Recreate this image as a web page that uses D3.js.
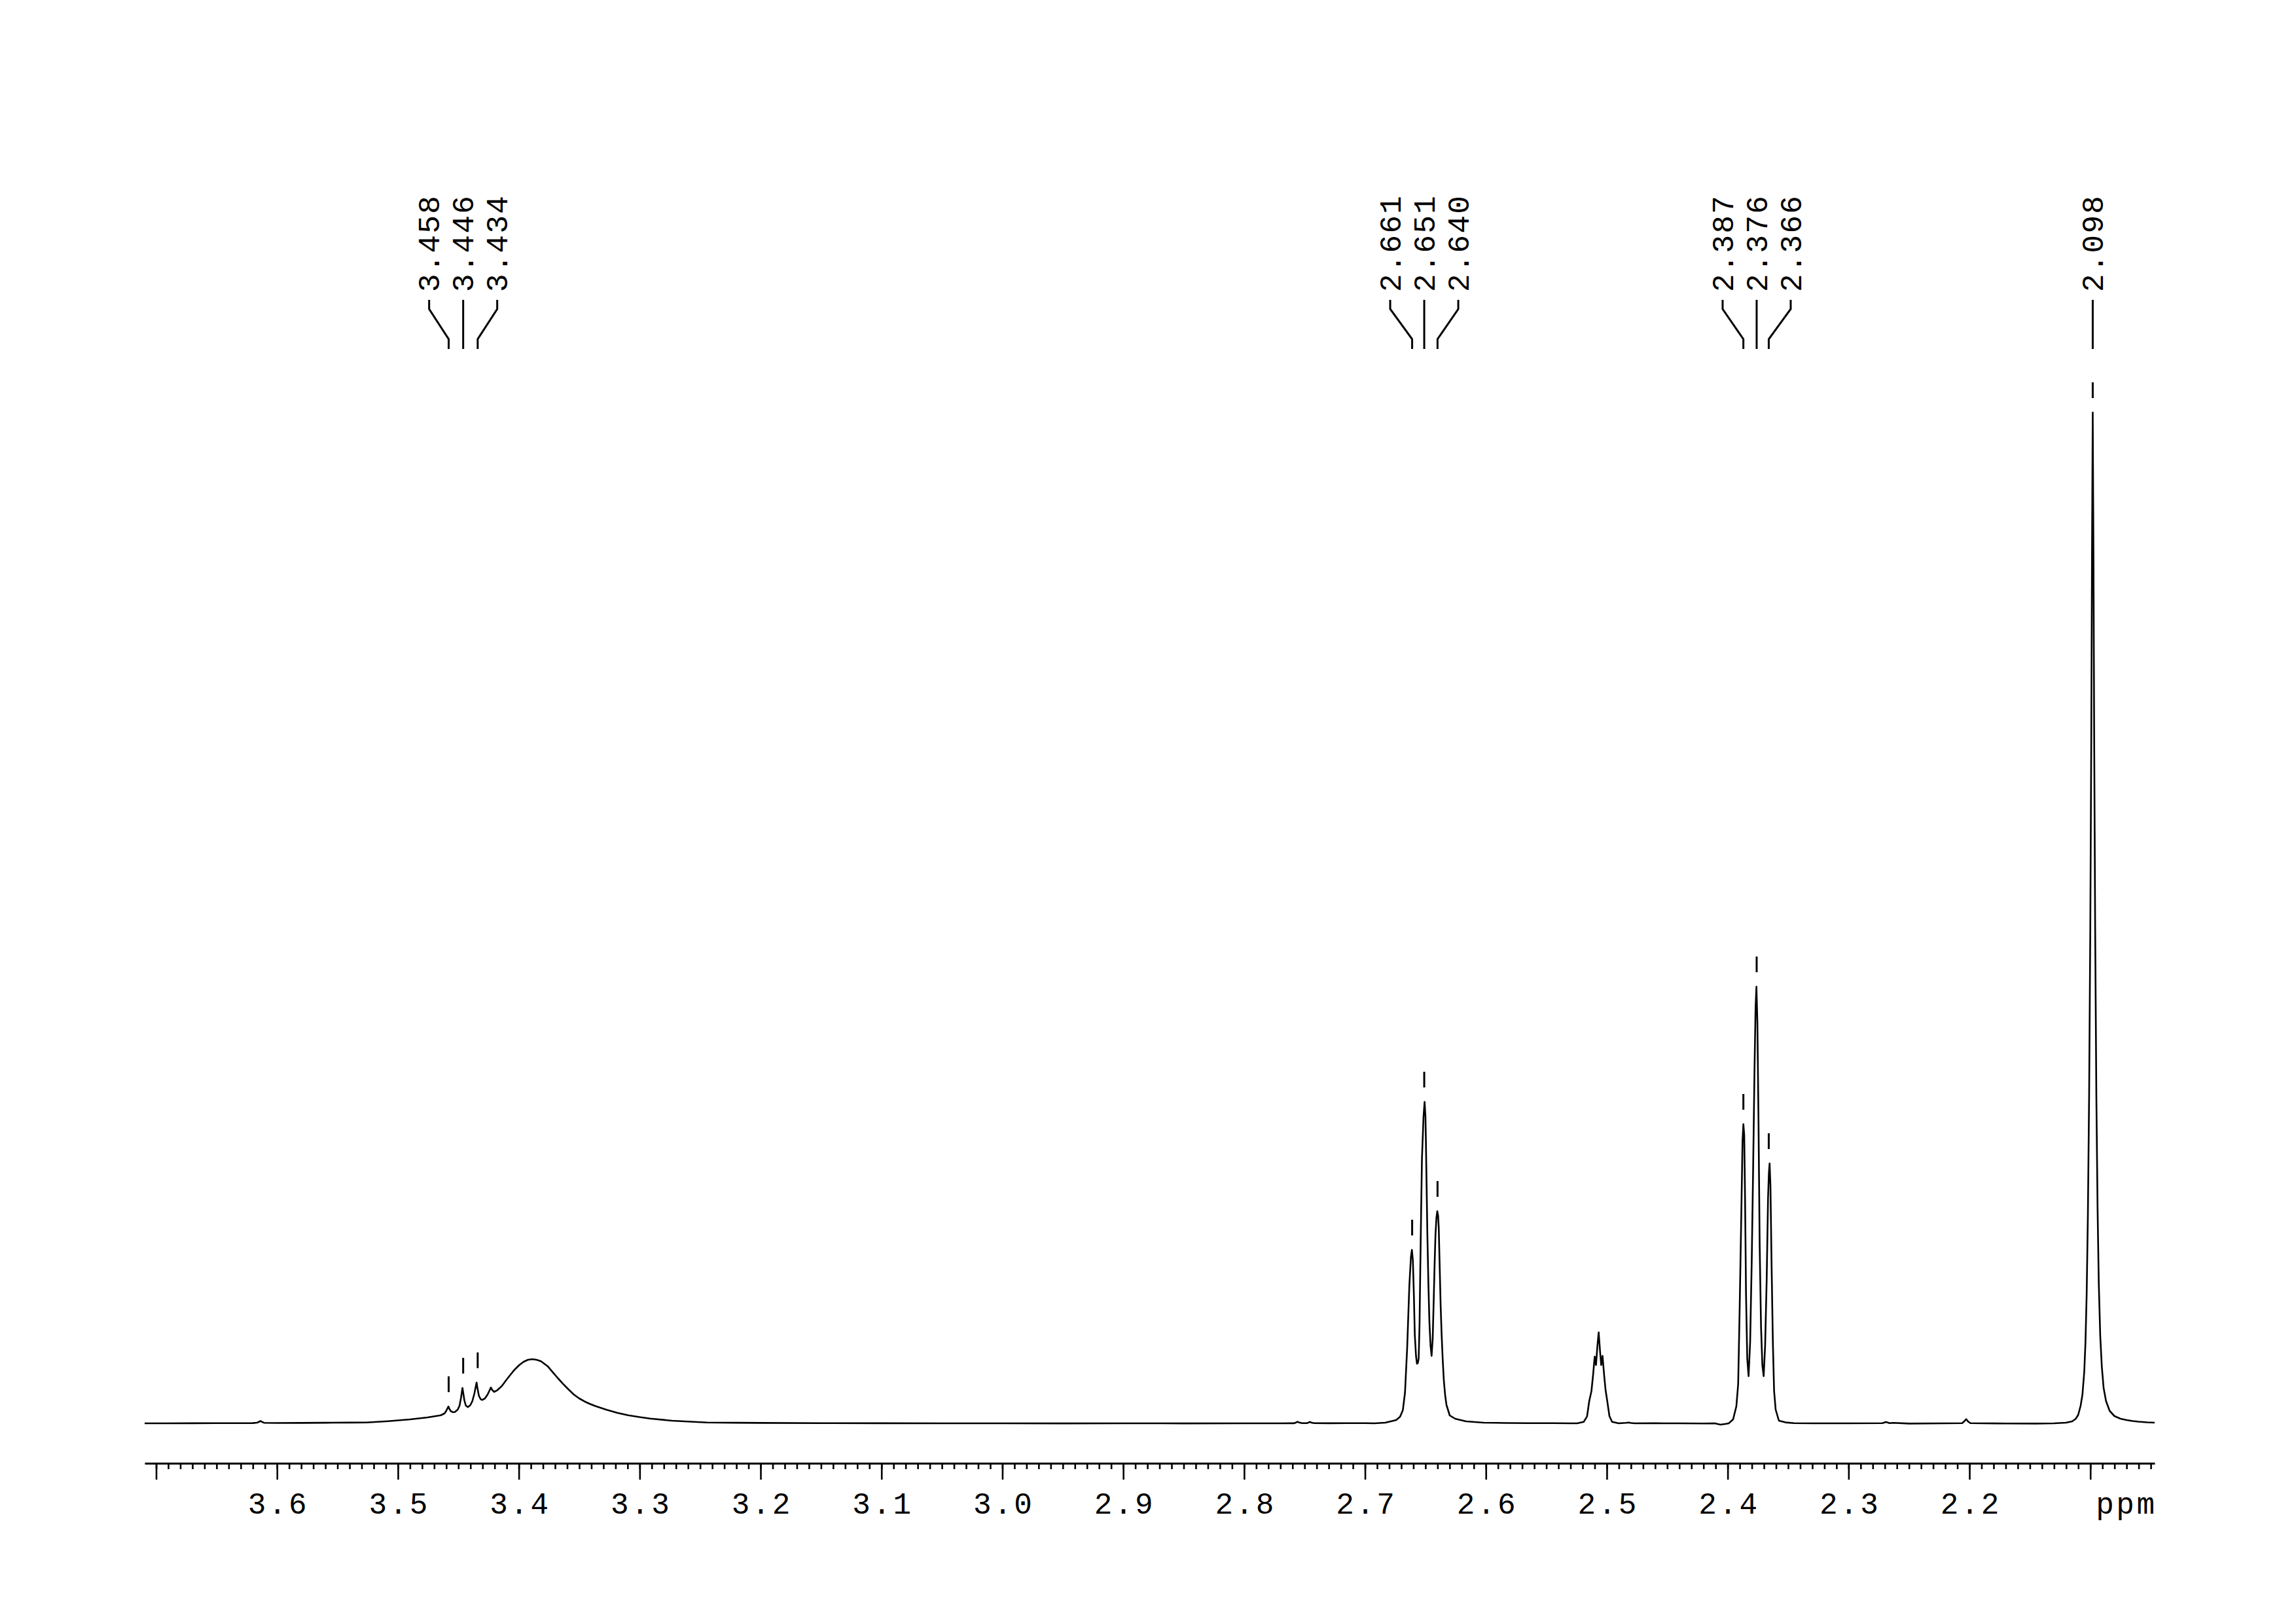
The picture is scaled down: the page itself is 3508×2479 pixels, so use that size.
<!DOCTYPE html>
<html><head><meta charset="utf-8">
<script src="https://cdn.jsdelivr.net/npm/d3@7"></script>
<style>html,body{margin:0;padding:0;background:#fff;} svg{display:block;}</style>
</head><body>
<svg id="chart" width="3508" height="2479"></svg>
<script>
// ---- DATA: [ppm, intensity (a.u.)] ----
const leftBaseline = [[3.7095,1.0],[3.690,1.0],[3.670,1.1],[3.650,1.2],[3.630,1.3],[3.620,1.4],[3.6165,2.0],[3.6150,3.2],[3.6137,4.5],[3.6123,3.2],[3.6108,1.8],[3.600,1.5],[3.580,1.6],[3.560,1.9],[3.540,2.1]];
const humpRegion = [[3.526,2.3],[3.508,4.3],[3.490,7.0],[3.4755,10.0],[3.4646,13.3],[3.4615,16.0],[3.4600,20.0],[3.4590,24.0],[3.4582,26.7],[3.4574,23.0],[3.4562,19.5],[3.4545,18.0],[3.4529,18.3],[3.4505,22.0],[3.4490,28.0],[3.4478,40.0],[3.4470,50.0],[3.4466,55.0],[3.4460,48.0],[3.4450,36.0],[3.4438,28.0],[3.4421,25.7],[3.4400,29.0],[3.4384,35.0],[3.4368,46.0],[3.4355,58.0],[3.4349,63.3],[3.4342,55.0],[3.4330,43.0],[3.4316,38.0],[3.4303,36.7],[3.4280,39.0],[3.4258,45.0],[3.4240,52.0],[3.4231,55.7],[3.4220,52.0],[3.4204,49.0],[3.4177,51.7],[3.4140,58.0],[3.4105,66.7],[3.4070,75.0],[3.4033,83.3],[3.3996,90.0],[3.3960,95.0],[3.3925,98.0],[3.3888,99.0],[3.3852,98.0],[3.3816,95.7],[3.3762,88.3],[3.3708,76.7],[3.3672,69.0],[3.3636,61.7],[3.3590,53.0],[3.3545,45.0],[3.3500,39.0],[3.3455,34.3],[3.3410,30.5],[3.3365,27.3],[3.3275,21.7],[3.3185,17.0],[3.3094,13.3],[3.3000,10.5],[3.2914,8.3],[3.2733,5.0],[3.2553,3.3],[3.2445,2.3]];
const middleBaseline = [[3.220,1.9],[3.200,1.6],[3.150,1.3],[3.100,1.1],[3.050,1.0],[3.000,1.0],[2.950,0.9],[2.900,1.0],[2.850,0.9],[2.800,1.0],[2.770,1.0],[2.7585,1.1],[2.7570,2.3],[2.7558,3.4],[2.7545,2.2],[2.7520,1.2],[2.7480,1.3],[2.7465,2.4],[2.7455,3.0],[2.7442,2.0],[2.7420,1.2],[2.730,1.1],[2.715,1.2],[2.700,1.3]];
const tripletA = [[2.6922,1.0],[2.6832,2.0],[2.6742,6.0],[2.6710,11.0],[2.6687,21.0],[2.6669,48.0],[2.6651,117.0],[2.6633,212.0],[2.6620,255.0],[2.6612,266.0],[2.6604,250.0],[2.6596,200.0],[2.6588,136.0],[2.6578,104.0],[2.6570,92.0],[2.6563,93.0],[2.6556,100.0],[2.6549,150.0],[2.6543,232.0],[2.6536,320.0],[2.6529,404.0],[2.6516,469.0],[2.6507,492.0],[2.6500,470.0],[2.6496,430.0],[2.6490,360.0],[2.6484,289.0],[2.6475,210.0],[2.6467,155.0],[2.6458,120.0],[2.6449,104.0],[2.6440,130.0],[2.6431,193.0],[2.6424,245.0],[2.6417,289.0],[2.6409,315.0],[2.6402,325.0],[2.6395,318.0],[2.6390,300.0],[2.6381,232.0],[2.6374,180.0],[2.6366,136.0],[2.6357,98.0],[2.6348,67.0],[2.6337,44.0],[2.6326,29.0],[2.6299,13.0],[2.6254,8.0],[2.6164,4.0],[2.6020,2.0],[2.5840,1.5]];
const dmsoRegion = [[2.5650,1.3],[2.5450,1.2],[2.5298,1.0],[2.5244,1.0],[2.5190,3.3],[2.5163,11.7],[2.5145,35.0],[2.5127,50.0],[2.5113,75.0],[2.5100,103.0],[2.5089,90.0],[2.5078,118.0],[2.5067,140.0],[2.5056,112.0],[2.5046,90.0],[2.5035,104.0],[2.5022,75.0],[2.5010,52.0],[2.4996,35.0],[2.4978,12.0],[2.4956,3.3],[2.4901,1.0],[2.4840,1.8],[2.4820,2.3],[2.4800,1.5],[2.4767,1.0],[2.4600,1.1],[2.4400,1.0],[2.4200,0.8]];
const tripletB = [[2.4107,1.0],[2.4060,-1.0],[2.4020,0.0],[2.3991,1.0],[2.3955,7.0],[2.3928,27.0],[2.3913,61.0],[2.3901,173.0],[2.3888,310.0],[2.3877,432.0],[2.3870,458.0],[2.3863,442.0],[2.3856,344.0],[2.3848,198.0],[2.3838,100.0],[2.3827,73.0],[2.3814,125.0],[2.3801,247.0],[2.3789,393.0],[2.3778,540.0],[2.3769,637.0],[2.3762,668.0],[2.3754,613.0],[2.3745,466.0],[2.3735,271.0],[2.3724,149.0],[2.3713,90.0],[2.3702,73.0],[2.3690,120.0],[2.3677,222.0],[2.3666,344.0],[2.3659,383.0],[2.3653,398.0],[2.3646,364.0],[2.3637,247.0],[2.3626,125.0],[2.3616,51.0],[2.3603,22.0],[2.3576,5.0],[2.3522,2.4],[2.3450,1.2]];
const rightBaseline = [[2.330,1.0],[2.300,1.0],[2.2720,1.2],[2.2690,3.0],[2.2660,1.2],[2.2630,1.8],[2.2500,0.6],[2.2200,1.0],[2.2060,1.2],[2.2040,4.5],[2.2027,7.3],[2.2010,3.5],[2.1990,1.2],[2.1700,0.8],[2.1450,0.6]];
const singlet = [[2.1300,1.0],[2.1200,2.0],[2.1150,4.0],[2.1120,8.0],[2.1100,14.0],[2.1080,28.0],[2.1065,45.0],[2.1050,80.0],[2.1040,125.0],[2.1030,200.0],[2.1020,320.0],[2.1010,500.0],[2.1000,760.0],[2.0992,1050.0],[2.0986,1330.0],[2.0980,1545.0],[2.0974,1330.0],[2.0968,1050.0],[2.0960,760.0],[2.0950,500.0],[2.0940,330.0],[2.0930,215.0],[2.0918,135.0],[2.0905,88.0],[2.0890,55.0],[2.0870,35.0],[2.0840,20.0],[2.0800,12.0],[2.0750,8.0],[2.0700,6.0],[2.0650,4.5],[2.0600,3.5],[2.0530,2.5],[2.0468,2.0]];

// peak-picking groups (ppm)
const peakGroups = [[3.458,3.446,3.434],[2.661,2.651,2.640],[2.387,2.376,2.366],[2.098]];

// axis ticks & labels
const majorTicks = [3.7,3.6,3.5,3.4,3.3,3.2,3.1,3.0,2.9,2.8,2.7,2.6,2.5,2.4,2.3,2.2,2.1];
const majorLabels = ["","3.6","3.5","3.4","3.3","3.2","3.1","3.0","2.9","2.8","2.7","2.6","2.5","2.4","2.3","2.2",""];
const axisUnit = "ppm";

// ---- DRAWING ----
const W = 3508, H = 2479;
const svg = d3.select("#chart");
svg.append("rect").attr("width", W).attr("height", H).attr("fill", "#fff");

const x = d3.scaleLinear().domain([3.7095, 2.0468]).range([221, 3292]);
const y = d3.scaleLinear().domain([0, 1545]).range([2175, 630]);
const FONT = "'Liberation Mono', 'DejaVu Sans Mono', monospace";
const FS = 46, LS = 3.5, LS_PEAK = 2.2;

const spectrum = [].concat(leftBaseline, humpRegion, middleBaseline, tripletA, dmsoRegion, tripletB, rightBaseline, singlet)
  .sort((a, b) => b[0] - a[0]);

svg.append("path").datum(spectrum)
  .attr("d", d3.line().x(d => x(d[0])).y(d => y(d[1])))
  .attr("fill", "none").attr("stroke", "#000").attr("stroke-width", 2.6)
  .attr("stroke-linejoin", "round");

// axis
const axisY = 2235;
const minorTicks = d3.range(0, 166).map(i => +(3.70 - i * 0.01).toFixed(2));
const gMinor = svg.append("g").attr("transform", `translate(0,${axisY})`)
  .call(d3.axisBottom(x).tickValues(minorTicks).tickSize(9).tickSizeOuter(0).tickFormat(""));
gMinor.select(".domain").attr("stroke", "#000").attr("stroke-width", 3);
gMinor.selectAll(".tick line").attr("stroke", "#000").attr("stroke-width", 2.6);

const gMajor = svg.append("g").attr("transform", `translate(0,${axisY})`)
  .call(d3.axisBottom(x).tickValues(majorTicks).tickSize(25).tickSizeOuter(0)
    .tickFormat((d, i) => majorLabels[i]));
gMajor.select(".domain").remove();
gMajor.attr("font-family", FONT).attr("font-size", FS);
gMajor.selectAll(".tick line").attr("stroke", "#000").attr("stroke-width", 2.6);
gMajor.selectAll(".tick text").attr("y", 77).attr("dy", 0).attr("dx", LS / 2)
  .attr("fill", "#000").style("letter-spacing", LS + "px");

svg.append("text").attr("x", x(2.0468) + LS).attr("y", axisY + 77)
  .attr("text-anchor", "end").attr("font-family", FONT).attr("font-size", FS)
  .style("letter-spacing", LS + "px").attr("fill", "#000").text(axisUnit);

// peak labels, leaders and marks
const LABEL_STEP = 52;
const gPeaks = svg.append("g");
function peakTop(p) {
  let best = 0;
  spectrum.forEach(d => { if (Math.abs(d[0] - p) <= 0.0015 && d[1] > best) best = d[1]; });
  return best;
}
peakGroups.forEach(group => {
  const n = group.length;
  const xMid = x(group[Math.floor(n / 2)]);
  group.forEach((p, i) => {
    const lx = n === 1 ? x(p) : xMid + (i - (n - 1) / 2) * LABEL_STEP;
    const px = x(p);
    gPeaks.append("g").attr("transform", `translate(${lx},446) rotate(-90)`)
      .append("text").attr("x", 0).attr("y", 0).attr("dy", "0.34em")
      .attr("font-family", FONT).attr("font-size", FS)
      .style("letter-spacing", LS_PEAK + "px").attr("fill", "#000")
      .text(p.toFixed(3));
    gPeaks.append("path")
      .attr("d", `M${lx},458 L${lx},472 L${px},518 L${px},533`)
      .attr("fill", "none").attr("stroke", "#000").attr("stroke-width", 3);
    const ty = y(peakTop(p));
    gPeaks.append("line").attr("x1", px).attr("x2", px)
      .attr("y1", ty - 46).attr("y2", ty - 22)
      .attr("stroke", "#000").attr("stroke-width", 3);
  });
});
</script>
</body></html>
